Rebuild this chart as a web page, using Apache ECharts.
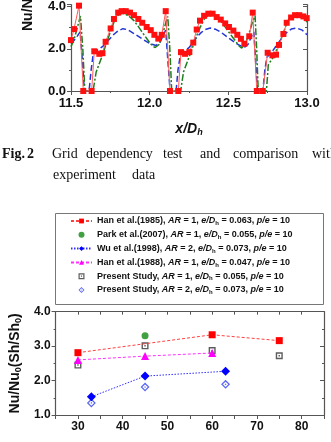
<!DOCTYPE html>
<html>
<head>
<meta charset="utf-8">
<script src="https://cdn.jsdelivr.net/npm/echarts@6/dist/echarts.min.js"></script>
<style>
html,body{margin:0;padding:0;background:#fff;}
#chart{width:331px;height:442px;}
</style>
</head>
<body>
<div id="chart"></div>
<script>
// --- top chart: local Nu/Nu0 vs x/Dh (grid dependency)
var gridRed = [[11.500,2.41],[11.519,2.93],[11.551,4.04],[11.578,0],[11.631,0],[11.648,1.88],[11.680,1.76],[11.700,1.79],
  [11.720,2.33],[11.752,2.96],[11.773,3.41],[11.800,3.71],[11.822,3.78],[11.848,3.78],[11.875,3.71],[11.900,3.59],
  [11.928,3.41],[11.953,3.23],[11.981,3.03],[12.007,2.88],[12.030,2.66],[12.055,2.48],[12.077,2.66],[12.102,3.78],
  [12.129,0],[12.182,0],[12.199,1.84],[12.225,1.76],[12.252,1.84],[12.277,2.29],[12.299,2.91],[12.320,3.33],
  [12.346,3.56],[12.373,3.66],[12.400,3.66],[12.426,3.50],[12.452,3.38],[12.480,3.20],[12.504,3.03],[12.532,2.86],
  [12.557,2.66],[12.580,2.47],[12.602,2.24],[12.633,2.59],[12.655,3.71],[12.681,0],[12.719,0],[12.750,1.81],
  [12.780,1.69],[12.803,1.72],[12.822,2.18],[12.850,2.70],[12.871,3.23],[12.899,3.48],[12.924,3.59],[12.951,3.59],
  [12.977,3.53],[12.998,3.45]];
var gridGreen = [[11.500,2.10],[11.520,2.45],[11.540,3.00],[11.560,3.55],[11.575,2.00],[11.588,0],[11.640,0],[11.660,0.90],
  [11.685,1.40],[11.700,1.70],[11.720,2.15],[11.750,2.80],[11.775,3.30],[11.800,3.60],[11.825,3.68],[11.850,3.62],
  [11.875,3.50],[11.900,3.33],[11.925,3.08],[11.950,2.81],[11.975,2.55],[12.000,2.29],[12.020,2.12],[12.035,2.06],
  [12.060,2.20],[12.085,2.75],[12.105,3.30],[12.115,3.53],[12.128,2.00],[12.140,0],[12.197,0],[12.215,0.90],
  [12.240,1.40],[12.265,1.90],[12.290,2.45],[12.320,3.00],[12.350,3.45],[12.380,3.62],[12.400,3.63],[12.425,3.52],
  [12.450,3.33],[12.475,3.08],[12.500,2.82],[12.525,2.57],[12.550,2.32],[12.570,2.12],[12.585,2.03],[12.610,2.25],
  [12.635,2.80],[12.655,3.30],[12.670,3.56],[12.680,2.00],[12.690,0],[12.742,0],[12.754,1.24],[12.786,1.61],
  [12.818,2.14],[12.846,2.66],[12.870,3.18],[12.892,3.51],[12.935,3.63],[12.977,3.48],[13.000,3.26]];
var gridBlue = [[11.500,2.25],[11.520,2.40],[11.540,2.60],[11.558,2.80],[11.572,1.50],[11.585,0],[11.615,0],[11.628,1.00],
  [11.642,1.80],[11.670,1.95],[11.700,2.10],[11.725,2.30],[11.750,2.50],[11.775,2.70],[11.800,2.85],[11.830,2.95],
  [11.860,2.90],[11.900,2.72],[11.950,2.48],[12.000,2.25],[12.040,2.15],[12.065,2.30],[12.085,2.60],[12.102,2.88],
  [12.115,1.50],[12.130,0],[12.168,0],[12.180,1.00],[12.195,1.70],[12.225,1.90],[12.250,2.05],[12.275,2.30],
  [12.300,2.55],[12.325,2.75],[12.350,2.90],[12.385,2.98],[12.420,2.92],[12.450,2.80],[12.500,2.52],[12.550,2.25],
  [12.600,2.05],[12.625,2.20],[12.645,2.55],[12.662,2.80],[12.673,1.50],[12.685,0],[12.720,0],[12.732,1.00],
  [12.745,1.60],[12.780,1.88],[12.820,2.30],[12.860,2.70],[12.900,2.93],[12.935,2.98],[12.970,2.88],[13.000,2.66]];

// --- bottom chart: averaged Nu/Nu0 vs rib angle
var han1985 = [[30,2.81],[60,3.33],[75,3.16]];
var park2007 = [[45,3.30]];
var wu1998 = [[33,1.53],[45,2.13],[63,2.27]];
var han1988 = [[30,2.60],[45,2.71],[60,2.80]];
var presentAR1 = [[30,2.45],[45,3.01],[60,2.87],[75,2.72]];
var presentAR2 = [[33,1.35],[45,1.81],[63,1.89]];

var legendRefs = ['Han et al.(1985)','Park et al.(2007)','Wu et al.(1998)','Han et al.(1988)','Present Study','Present Study '];
var legendAR = ['1','1','2','1','1','2'];
var legendEDh = ['0.063','0.055','0.073','0.047','0.055','0.073'];
var legendPE = ['10','10','10','10','10','10'];

var topYLabels = ['0.0','2.0','4.0'];
var botYLabels = ['1.0','2.0','3.0','4.0'];

var FONT = 'Liberation Sans, Arial, sans-serif';
var SERIF = 'Liberation Serif, Times New Roman, serif';
var AXC = '#555';

var sqDot = 'path://M0 0H10V10H0Z M2 2V8H8V2Z M4 4H6V6H4Z';
var diaDot = 'path://M5 0L10 5L5 10L0 5Z M5 2L2 5L5 8L8 5Z M5 4L6 5L5 6L4 5Z';

var chart = echarts.init(document.getElementById('chart'), null, {renderer: 'canvas'});

function axisLab(sz) {
  return {color: '#111', fontFamily: FONT, fontWeight: 'bold', fontSize: sz};
}
function cap(txt, x, y, bold) {
  return {type: 'text', x: x, y: y, style: {text: txt, font: (bold ? 'bold ' : '') + '14px ' + SERIF,
    fill: '#111', textVerticalAlign: 'middle'}};
}

var option = {
  animation: false,
  backgroundColor: '#fff',
  grid: [
    {left: 71, right: 24, top: 0, bottom: 351},
    {left: 55, right: 7, top: 311.7, bottom: 27}
  ],
  legend: {
    left: 70, top: 216.5, orient: 'vertical',
    padding: 0,
    itemWidth: 21, itemHeight: 6, itemGap: 3.8,
    selectedMode: false,
    data: legendRefs,
    formatter: function (name) {
      var i = legendRefs.indexOf(name);
      return '{n|' + legendRefs[i].trim() + ', }{i|AR}{n| = ' + legendAR[i] + ', }{i|e/D}{s|h}{n| = ' +
        legendEDh[i] + ', }{i|p/e}{n| = ' + legendPE[i] + '}';
    },
    textStyle: {
      rich: {
        n: {fontFamily: FONT, fontWeight: 'bold', fontSize: 9, lineHeight: 11, color: '#111'},
        i: {fontFamily: FONT, fontWeight: 'bold', fontStyle: 'italic', fontSize: 9, lineHeight: 11, color: '#111'},
        s: {fontFamily: FONT, fontWeight: 'bold', fontSize: 6, lineHeight: 3, verticalAlign: 'bottom', color: '#111'}
      }
    }
  },
  xAxis: [
    {gridIndex: 0, type: 'value', min: 11.5, max: 13.0, interval: 0.5,
      name: '{a|x/D}{b|h}', nameLocation: 'middle', nameGap: 30,
      nameTextStyle: {rich: {
        a: {fontFamily: FONT, fontWeight: 'bold', fontStyle: 'italic', fontSize: 14, lineHeight: 16, color: '#111'},
        b: {fontFamily: FONT, fontWeight: 'bold', fontStyle: 'italic', fontSize: 9, lineHeight: 6, verticalAlign: 'bottom', color: '#111'}
      }},
      axisLine: {onZero: false, lineStyle: {color: AXC, width: 1.2}},
      axisTick: {inside: false, length: 4, lineStyle: {color: AXC}},
      minorTick: {show: true, splitNumber: 2, length: 2, lineStyle: {color: AXC}},
      axisLabel: Object.assign(axisLab(13), {margin: 6, formatter: function (v) { return v.toFixed(1); }}),
      splitLine: {show: false}
    },
    {gridIndex: 1, type: 'value', min: 25, max: 85, interval: 5,
      axisLine: {onZero: false, lineStyle: {color: AXC, width: 1.2}},
      axisTick: {inside: false, length: 4, lineStyle: {color: AXC}},
      axisLabel: Object.assign(axisLab(12), {margin: 6, formatter: function (v) { return v % 10 === 0 ? String(v) : ''; }}),
      splitLine: {show: false}
    },
    {gridIndex: 1, type: 'value', position: 'top', min: 25, max: 85, interval: 5,
      axisLine: {onZero: false, lineStyle: {color: AXC, width: 1.2}},
      axisTick: {inside: true, length: 3, lineStyle: {color: AXC}},
      axisLabel: {show: false}, splitLine: {show: false}
    }
  ],
  yAxis: [
    {gridIndex: 0, type: 'value', min: 0, max: 4.09, interval: 2,
      axisLine: {show: true, onZero: false, lineStyle: {color: AXC, width: 1.2}},
      axisTick: {show: true, inside: false, length: 4, lineStyle: {color: AXC}},
      minorTick: {show: true, splitNumber: 2, length: 2, lineStyle: {color: AXC}},
      axisLabel: Object.assign(axisLab(13), {margin: 5, showMaxLabel: false, formatter: function (v) { return topYLabels[v / 2] || ''; }}),
      splitLine: {show: false}
    },
    {gridIndex: 0, type: 'value', position: 'right', min: 0, max: 4.09, interval: 2,
      axisLine: {show: true, onZero: false, lineStyle: {color: AXC, width: 1.2}},
      axisTick: {show: true, inside: true, length: 4, lineStyle: {color: AXC}},
      minorTick: {show: true, splitNumber: 2, length: 2, lineStyle: {color: AXC}},
      axisLabel: {show: false}, splitLine: {show: false}
    },
    {gridIndex: 1, type: 'value', min: 1, max: 4, interval: 1,
      name: '{a|Nu/Nu}{b|0}{a|(Sh/Sh}{b|0}{a|)}', nameLocation: 'middle', nameGap: 30, nameRotate: 90,
      nameTextStyle: {rich: {
        a: {fontFamily: FONT, fontWeight: 'bold', fontSize: 14, lineHeight: 16, color: '#111'},
        b: {fontFamily: FONT, fontWeight: 'bold', fontSize: 9, lineHeight: 6, verticalAlign: 'bottom', color: '#111'}
      }},
      axisLine: {show: true, onZero: false, lineStyle: {color: AXC, width: 1.2}},
      axisTick: {show: true, inside: false, length: 4, lineStyle: {color: AXC}},
      minorTick: {show: true, splitNumber: 2, length: 2, lineStyle: {color: AXC}},
      axisLabel: Object.assign(axisLab(12), {margin: 5, formatter: function (v) { return botYLabels[v - 1] || ''; }}),
      splitLine: {show: false}
    },
    {gridIndex: 1, type: 'value', position: 'right', min: 1, max: 4, interval: 1,
      axisLine: {show: true, onZero: false, lineStyle: {color: AXC, width: 1.2}},
      axisTick: {show: true, inside: true, length: 4, lineStyle: {color: AXC}},
      minorTick: {show: true, splitNumber: 2, length: 2, lineStyle: {color: AXC}},
      axisLabel: {show: false}, splitLine: {show: false}
    }
  ],
  graphic: [
    {type: 'text', x: 28, y: 31, rotation: Math.PI / 2,
      style: {text: '{a|Nu/Nu}{b|0}', textAlign: 'left', textVerticalAlign: 'middle',
        rich: {
          a: {fontFamily: FONT, fontWeight: 'bold', fontSize: 14, lineHeight: 16, fill: '#111', color: '#111'},
          b: {fontFamily: FONT, fontWeight: 'bold', fontSize: 9, lineHeight: 6, verticalAlign: 'bottom', fill: '#111', color: '#111'}
        }}},
    cap('Fig.', 2, 154, true), cap('2', 27, 154, true),
    cap('Grid', 52, 154), cap('dependency', 86, 154), cap('test', 163, 154), cap('and', 200, 154),
    cap('comparison', 233, 154), cap('with', 312, 154),
    cap('experiment', 53, 175), cap('data', 132, 175),
    {type: 'rect', shape: {x: 55.5, y: 213.5, width: 268, height: 91}, z: -1,
      style: {fill: 'none', stroke: '#777', lineWidth: 1}}
  ],
  series: [
    {name: 'blue', type: 'line', xAxisIndex: 0, yAxisIndex: 0, data: gridBlue, showSymbol: false, symbol: 'none',
      lineStyle: {color: '#2236d6', width: 1.5, type: [6, 3]}},
    {name: 'green', type: 'line', xAxisIndex: 0, yAxisIndex: 0, data: gridGreen, showSymbol: false, symbol: 'none',
      lineStyle: {color: '#1e7d1e', width: 1.5, type: [7, 2, 2, 2]}},
    {name: 'red', type: 'line', xAxisIndex: 0, yAxisIndex: 0, data: gridRed, symbol: 'rect', symbolSize: 6, clip: false,
      itemStyle: {color: '#ff1010'}, lineStyle: {color: '#ff5a5a', width: 1}},

    {name: legendRefs[0], type: 'line', xAxisIndex: 1, yAxisIndex: 2, data: han1985, symbol: 'rect', symbolSize: 7,
      itemStyle: {color: '#ff0000'}, lineStyle: {color: '#ff4040', width: 1, type: [3, 2]}},
    {name: legendRefs[1], type: 'scatter', xAxisIndex: 1, yAxisIndex: 2, data: park2007, symbol: 'circle', symbolSize: 7,
      itemStyle: {color: '#118811'}},
    {name: legendRefs[2], type: 'line', xAxisIndex: 1, yAxisIndex: 2, data: wu1998, symbol: 'diamond', symbolSize: 9,
      itemStyle: {color: '#0000ff'}, lineStyle: {color: '#3030ff', width: 1, type: [1.5, 1.5]}},
    {name: legendRefs[3], type: 'line', xAxisIndex: 1, yAxisIndex: 2, data: han1988, symbol: 'triangle', symbolSize: 8,
      itemStyle: {color: '#ff00ff'}, lineStyle: {color: '#ff30ff', width: 1, type: [3, 2]}},
    {name: legendRefs[4], type: 'scatter', xAxisIndex: 1, yAxisIndex: 2, data: presentAR1, symbol: sqDot, symbolSize: 7,
      itemStyle: {color: '#333'}},
    {name: legendRefs[5], type: 'scatter', xAxisIndex: 1, yAxisIndex: 2, data: presentAR2, symbol: diaDot, symbolSize: 9,
      itemStyle: {color: '#3344ee'}}
  ]
};
chart.setOption(option);
</script>
</body>
</html>
